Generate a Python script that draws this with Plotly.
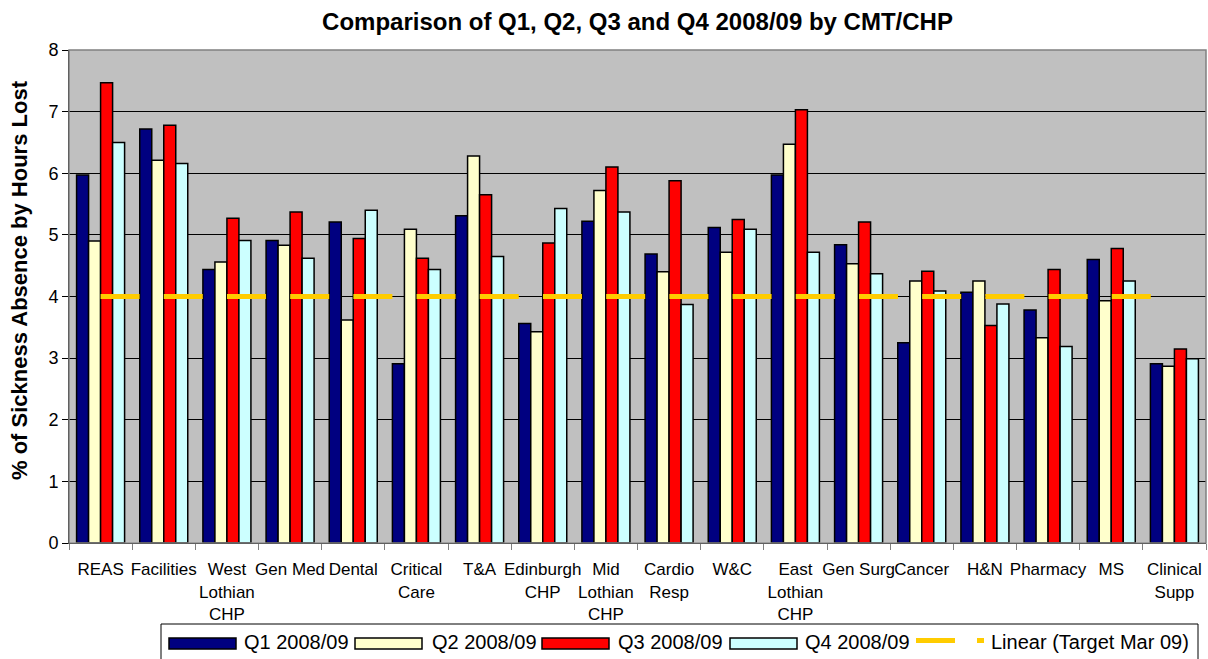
import plotly.graph_objects as go

categories = ["REAS", "Facilities", "West<br>Lothian<br>CHP", "Gen Med", "Dental",
              "Critical<br>Care", "T&A", "Edinburgh<br>CHP", "Mid<br>Lothian<br>CHP",
              "Cardio<br>Resp", "W&C", "East<br>Lothian<br>CHP", "Gen Surg", "Cancer",
              "H&N", "Pharmacy", "MS", "Clinical<br>Supp"]

q1 = [5.97, 6.72, 4.44, 4.91, 5.21, 2.91, 5.31, 3.56, 5.22, 4.69, 5.12, 5.97, 4.84, 3.25, 4.07, 3.78, 4.60, 2.91]
q2 = [4.90, 6.21, 4.56, 4.83, 3.62, 5.09, 6.28, 3.43, 5.72, 4.40, 4.72, 6.47, 4.53, 4.25, 4.25, 3.33, 3.93, 2.87]
q3 = [7.47, 6.78, 5.27, 5.37, 4.94, 4.62, 5.65, 4.87, 6.10, 5.88, 5.25, 7.03, 5.21, 4.41, 3.53, 4.44, 4.78, 3.15]
q4 = [6.50, 6.16, 4.91, 4.62, 5.40, 4.44, 4.65, 5.43, 5.37, 3.87, 5.09, 4.72, 4.37, 4.09, 3.88, 3.19, 4.25, 2.99]
target = [4] * len(categories)

series_names = ["Q1 2008/09", "Q2 2008/09", "Q3 2008/09", "Q4 2008/09"]
target_name = "Linear (Target Mar 09)"
series_colors = ["#000080", "#FFFFCC", "#FF0000", "#CCFFFF"]
target_color = "#FFCC00"
y_title = "% of Sickness Absence by Hours Lost"
chart_title = "Comparison of Q1, Q2, Q3 and Q4 2008/09 by CMT/CHP"

W, H = 1208, 659
ML, MR, MT, MB = 69, 2, 50, 116
plot_w = W - ML - MR
plot_h = H - MT - MB
cat_w = plot_w / len(categories)
dash_len = cat_w * 0.617
gap_len = cat_w - dash_len

FONT = "Liberation Sans, Arial, sans-serif"


def px_x(X):
    return (X - ML) / plot_w


def px_y(Y):
    return (H - MB - Y) / plot_h


fig = go.Figure()
for name, vals, col in zip(series_names, [q1, q2, q3, q4], series_colors):
    fig.add_trace(go.Bar(x=categories, y=vals, name=name,
                         marker=dict(color=col, line=dict(color="#000000", width=1.5))))

fig.add_trace(go.Scatter(x=categories, y=target, name=target_name, mode="lines",
                         line=dict(color=target_color, width=5,
                                   dash=f"{dash_len:.1f}px,{gap_len:.1f}px")))

fig.update_layout(
    width=W, height=H,
    margin=dict(l=ML, r=MR, t=MT, b=MB, autoexpand=False),
    paper_bgcolor="white",
    plot_bgcolor="#C0C0C0",
    barmode="group",
    bargap=0.24,
    bargroupgap=0,
    font=dict(family=FONT, color="black", size=18),
    title=dict(text=f"<b>{chart_title}</b>",
               x=(ML + plot_w / 2) / W, xanchor="center", y=1 - 22 / H, yanchor="middle",
               font=dict(size=24, family=FONT)),
    showlegend=False,
)

fig.update_xaxes(type="category", showline=True, linecolor="#000000", linewidth=1,
                 mirror=False, ticks="outside", ticklen=6, tickcolor="#808080",
                 tickson="boundaries", showgrid=False, tickangle=0, automargin=False,
                 ticklabelstandoff=11,
                 tickfont=dict(size=17, family=FONT))
fig.update_yaxes(range=[0, 8], dtick=1, showline=True, linecolor="#000000", linewidth=1,
                 ticks="outside", ticklen=6, tickcolor="#000000", automargin=False,
                 showgrid=True, gridcolor="#000000", gridwidth=1,
                 tickfont=dict(size=18, family=FONT))

# y axis title
fig.add_annotation(text=f"<b>{y_title}</b>", xref="paper", yref="paper",
                   x=px_x(19), y=px_y(280), xanchor="center", yanchor="middle",
                   textangle=-90, showarrow=False,
                   font=dict(size=22, family=FONT, color="black"))

# plot area frame
fig.add_shape(type="rect", xref="paper", yref="paper", x0=0, y0=0, x1=1, y1=1,
              line=dict(color="#808080", width=1.5), layer="above")

# legend drawn as a framed box
fig.add_shape(type="rect", xref="paper", yref="paper",
              x0=px_x(161), x1=px_x(1198), y0=px_y(664), y1=px_y(624),
              line=dict(color="#000000", width=1), fillcolor="white")
sw_x = [169, 355, 542, 730]
tx_x = [242, 430, 616, 803]
for name, col, sx, tx in zip(series_names, series_colors, sw_x, tx_x):
    fig.add_shape(type="rect", xref="paper", yref="paper",
                  x0=px_x(sx), x1=px_x(sx + 67), y0=px_y(649), y1=px_y(638),
                  line=dict(color="#000000", width=1.5), fillcolor=col)
    fig.add_annotation(text=name, xref="paper", yref="paper", x=px_x(tx), y=px_y(642),
                       xanchor="left", yanchor="middle", showarrow=False,
                       font=dict(size=20, family=FONT, color="black"))
fig.add_shape(type="line", xref="paper", yref="paper",
              x0=px_x(916), x1=px_x(955), y0=px_y(640.5), y1=px_y(640.5),
              line=dict(color=target_color, width=5))
fig.add_shape(type="line", xref="paper", yref="paper",
              x0=px_x(977), x1=px_x(984), y0=px_y(640.5), y1=px_y(640.5),
              line=dict(color=target_color, width=5))
fig.add_annotation(text=target_name, xref="paper", yref="paper", x=px_x(989), y=px_y(642),
                   xanchor="left", yanchor="middle", showarrow=False,
                   font=dict(size=20, family=FONT, color="black"))

fig.write_html("out.html", config={"displayModeBar": False},
               post_script="document.body.style.margin='0';document.body.style.padding='0';")
